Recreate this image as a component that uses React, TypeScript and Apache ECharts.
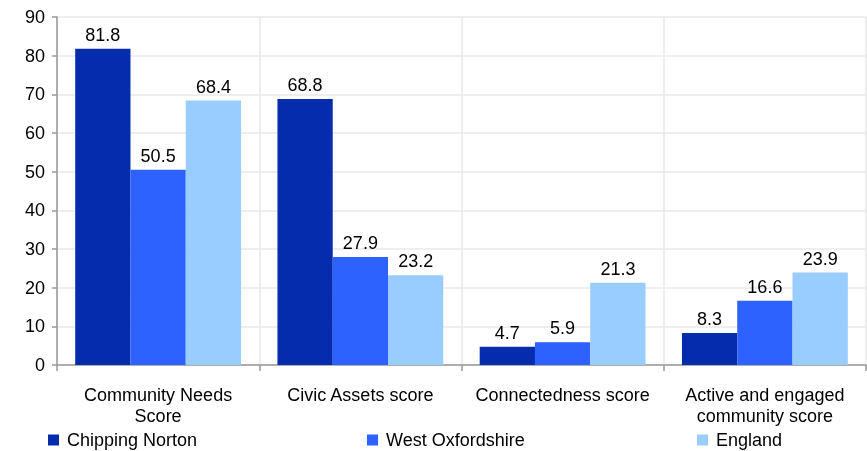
import React, { useEffect, useRef } from "react";
import * as echarts from "echarts";

const categories = [
  "Community Needs\nScore",
  "Civic Assets score",
  "Connectedness score",
  "Active and engaged\ncommunity score",
];
const seriesNames = ["Chipping Norton", "West Oxfordshire", "England"];
const chippingNorton = [81.8, 68.8, 4.7, 8.3];
const westOxfordshire = [50.5, 27.9, 5.9, 16.6];
const england = [68.4, 23.2, 21.3, 23.9];
const colors = ["#042CAD", "#2D62FF", "#99CCFF"];
const legendLefts = [48, 367, 697];

const FONT = "Liberation Sans, Arial, sans-serif";
const FS = 18;

export default function App() {
  const ref = useRef<HTMLDivElement>(null);
  useEffect(() => {
    if (!ref.current) return;
    const chart = echarts.init(ref.current, undefined, { renderer: "svg" });
    const values = [chippingNorton, westOxfordshire, england];
    chart.setOption({
      animation: false,
      textStyle: { fontFamily: FONT },
      grid: { left: 57, right: 1, top: 17, bottom: 86, containLabel: false },
      legend: seriesNames.map((n, i) => ({
        data: [n],
        left: legendLefts[i],
        top: 431,
        itemWidth: 11,
        itemHeight: 11,
        itemGap: 10,
        padding: 0,
        icon: "rect",
        textStyle: { fontSize: FS, color: "#000", fontFamily: FONT, padding: [0, 0, 0, 3] },
      })),
      xAxis: {
        type: "category",
        data: categories,
        axisLine: { lineStyle: { color: "#999", width: 1.5 } },
        axisTick: { show: true, interval: 0, length: 6, lineStyle: { color: "#999", width: 1.5 } },
        splitLine: { show: true, interval: 0, lineStyle: { color: "#e8e8e8", width: 1.5 } },
        axisLabel: {
          interval: 0,
          fontSize: FS,
          color: "#000",
          margin: 19,
          lineHeight: 21,
          fontFamily: FONT,
        },
      },
      yAxis: {
        type: "value",
        min: 0,
        max: 90,
        interval: 10,
        axisLine: { show: true, lineStyle: { color: "#999", width: 1.5 } },
        axisTick: { show: true, length: 5, lineStyle: { color: "#999", width: 1.5 } },
        splitLine: { show: true, lineStyle: { color: "#e8e8e8", width: 1.5 } },
        axisLabel: { fontSize: FS, color: "#000", margin: 12, fontFamily: FONT },
      },
      series: seriesNames.map((n, i) => ({
        name: n,
        type: "bar",
        data: values[i],
        barGap: "0%",
        barCategoryGap: "18%",
        itemStyle: { color: colors[i] },
        label: {
          show: true,
          position: "top",
          distance: 5,
          fontSize: FS,
          color: "#000",
          fontFamily: FONT,
          formatter: (p: any) => Number(p.value).toFixed(1),
        },
      })),
    });
    return () => chart.dispose();
  }, []);
  return (
    <div
      ref={ref}
      style={{ position: "fixed", left: 0, top: 0, width: 867, height: 451 }}
    />
  );
}
